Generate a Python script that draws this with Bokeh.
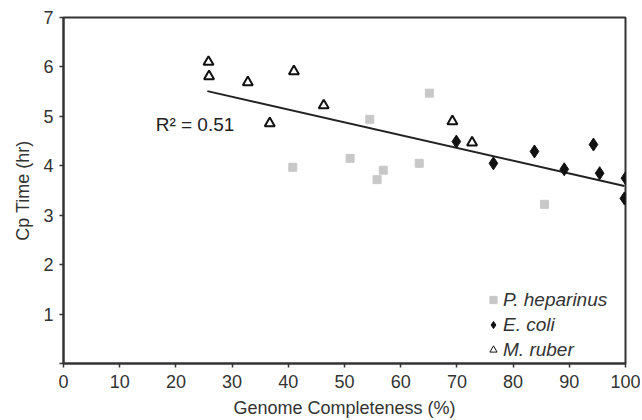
from bokeh.plotting import figure
from bokeh.models import FixedTicker, Legend, LegendItem, Label
from bokeh.embed import file_html
from bokeh.resources import INLINE

# Data
hep_x = [54.5, 51.0, 40.8, 56.9, 55.8, 63.3, 65.1, 85.6]
hep_y = [4.94, 4.15, 3.97, 3.91, 3.72, 4.05, 5.47, 3.22]

ecoli_x = [69.9, 76.5, 83.8, 89.1, 94.3, 95.4, 100.0, 99.8]
ecoli_y = [4.49, 4.05, 4.29, 3.93, 4.43, 3.85, 3.75, 3.34]

ruber_x = [25.8, 25.9, 32.8, 41.0, 36.7, 46.3, 69.2, 72.7]
ruber_y = [6.10, 5.81, 5.69, 5.91, 4.86, 5.22, 4.90, 4.47]

trend_x = [25.6, 99.8]
trend_y = [5.51, 3.59]

x_ticks = [0, 10, 20, 30, 40, 50, 60, 70, 80, 90, 100]
y_ticks = [0, 1, 2, 3, 4, 5, 6, 7]
series_names = ["P. heparinus", "E. coli", "M. ruber"]
r2_text = "R\u00b2 = 0.51"

FONT = "Liberation Sans"
INK = "#333333"
NAN = float("nan")

p = figure(width=640, height=420, x_range=(0, 100), y_range=(0, 7),
           output_backend="svg", toolbar_location=None,
           min_border_left=63, min_border_right=15, min_border_top=17, min_border_bottom=57)
p.xgrid.visible = False
p.ygrid.visible = False
p.outline_line_color = INK
p.outline_line_width = 2
p.background_fill_color = "white"
p.border_fill_color = "white"

for ax in (p.xaxis[0], p.yaxis[0]):
    ax.axis_line_color = INK
    ax.axis_line_width = 2
    ax.major_tick_line_color = INK
    ax.major_tick_line_width = 1.5
    ax.major_tick_out = 4
    ax.major_tick_in = 0
    ax.minor_tick_line_color = None
    ax.major_label_text_font = FONT
    ax.major_label_text_font_size = "18px"
    ax.major_label_text_color = INK
    ax.axis_label_text_font = FONT
    ax.axis_label_text_font_size = "18px"
    ax.axis_label_text_font_style = "normal"
    ax.axis_label_text_color = INK

p.xaxis.ticker = FixedTicker(ticks=x_ticks)
p.yaxis.ticker = FixedTicker(ticks=y_ticks)
p.yaxis.major_label_overrides = {0: ""}
p.xaxis.axis_label = "Genome Completeness (%)"
p.yaxis.axis_label = "Cp Time (hr)"
p.xaxis.major_label_standoff = 7
p.yaxis.major_label_standoff = 6
p.xaxis.axis_label_standoff = 7
p.yaxis.axis_label_standoff = 7

p.line(trend_x, trend_y, line_color="#222222", line_width=2)

p.scatter(hep_x, hep_y, marker="square", size=8, fill_color="#c8c8c8", line_color="#c8c8c8")
p.scatter(ecoli_x, ecoli_y, marker="diamond", size=13, fill_color="#111111", line_color="#111111")
p.scatter(ruber_x, ruber_y, marker="triangle", size=10, fill_color="white",
          line_color="#111111", line_width=2)

# small legend swatches (proxy renderers with no visible point, used only by the legend)
l_hep = p.scatter(x=[NAN], y=[NAN], marker="square", size=6, fill_color="#c8c8c8", line_color="#c8c8c8")
l_eco = p.scatter(x=[NAN], y=[NAN], marker="diamond", size=9, fill_color="#111111", line_color="#111111")
l_rub = p.scatter(x=[NAN], y=[NAN], marker="triangle", size=7, fill_color="white",
                  line_color="#111111", line_width=1)

p.add_layout(Label(x=16.4, y=4.84, text=r2_text, text_font=FONT, text_font_size="19px",
                   text_color="#222222", text_baseline="middle"))

legend = Legend(items=[LegendItem(label=series_names[0], renderers=[l_hep]),
                       LegendItem(label=series_names[1], renderers=[l_eco]),
                       LegendItem(label=series_names[2], renderers=[l_rub])],
                location=(421, 1), border_line_color=None, background_fill_alpha=0,
                padding=0, margin=0, spacing=0, glyph_width=18, glyph_height=25,
                label_standoff=1, label_height=25,
                label_text_font=FONT, label_text_font_size="19px",
                label_text_font_style="italic", label_text_color=INK)
p.add_layout(legend, "center")

open("out.html", "w").write(file_html(p, INLINE))
